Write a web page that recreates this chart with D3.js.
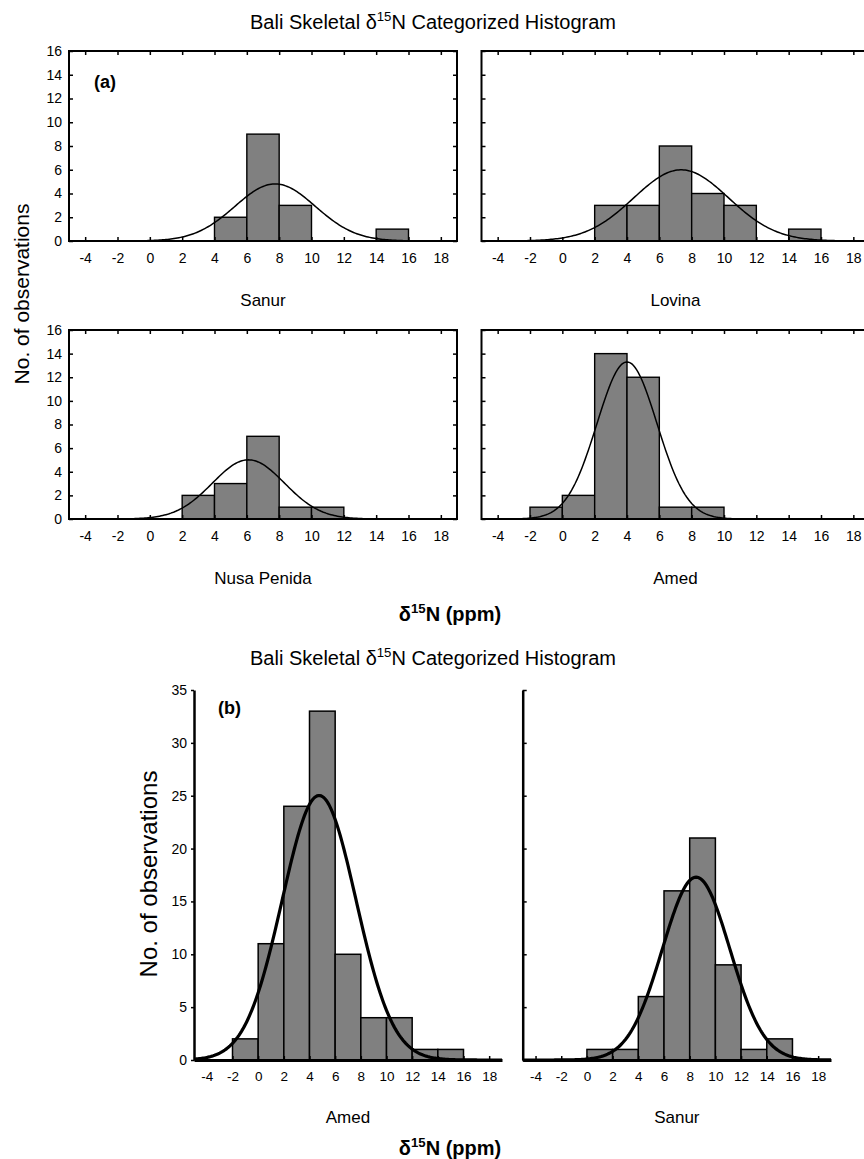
<!DOCTYPE html>
<html><head><meta charset="utf-8">
<script src="https://cdn.jsdelivr.net/npm/d3@7"></script>
<style>
body{margin:0;background:#fff}
text{font-family:"Liberation Sans",Arial,sans-serif;fill:#000}
</style>
</head><body>
<svg id="c" width="864" height="1159"></svg>
<script>
// ---------- data ----------
const binStarts = [-4,-2,0,2,4,6,8,10,12,14,16];
const binWidth = 2;
const xTicks = [-4,-2,0,2,4,6,8,10,12,14,16,18];
const yTicksA = [0,2,4,6,8,10,12,14,16];
const yTicksB = [0,5,10,15,20,25,30,35];

const namesA = ["Sanur","Lovina","Nusa Penida","Amed"];
const sanurA  = [0,0,0,0,2,9,3,0,0,1,0];
const lovinaA = [0,0,0,3,3,8,4,3,0,1,0];
const nusaA   = [0,0,0,2,3,7,1,1,0,0,0];
const amedA   = [0,1,2,14,12,1,1,0,0,0,0];
const fitMeanA = [7.75,7.35,6.1,4.0];
const fitSdA   = [2.49,2.93,2.23,1.86];

const namesB = ["Amed","Sanur"];
const amedB  = [0,2,11,24,33,10,4,4,1,1,0];
const sanurB = [0,0,1,1,6,16,21,9,1,2,0];
const fitMeanB = [4.75,8.5];
const fitSdB   = [2.87,2.63];

const titleText = ["Bali Skeletal ","δ","15","N Categorized Histogram"];
const xTitle = ["δ","15","N (ppm)"];
const yTitle = "No. of observations";

// ---------- drawing ----------
const svg = d3.select("#c");
const countsA = [sanurA,lovinaA,nusaA,amedA];
const countsB = [amedB,sanurB];
const fmt = d => String(d);   // plain hyphen-minus like the original

function normalCurve(counts, m, s){
  const n = d3.sum(counts);
  const k = n*binWidth/(s*Math.sqrt(2*Math.PI));
  return d3.range(-5, 19.001, 0.1).map(x => [x, k*Math.exp(-((x-m)**2)/(2*s*s))]);
}

function supText(g, parts, x, y, size, bold){
  const t = g.append("text").attr("x",x).attr("y",y).attr("text-anchor","middle")
    .style("font-size",size+"px").style("font-weight",bold?"bold":"normal");
  parts.forEach((p,i)=>{
    const ts = t.append("tspan").text(p);
    if (p === "15"){ ts.style("font-size",(size*0.66)+"px").attr("dy",-size*0.4); }
    else if (i>0 && parts[i-1]==="15"){ ts.attr("dy",size*0.4); }
  });
  return t;
}

// ===== Part (a) =====
supText(svg, titleText, 433, 29, 20, false);

const panelsA = [
  {x0:69, x1:457, y0:51, y1:241, left:true},
  {x0:481.5, x1:869.5, y0:51, y1:241, left:false},
  {x0:69, x1:457, y0:330, y1:519, left:true},
  {x0:481.5, x1:869.5, y0:330, y1:519, left:false}
];
const labelYA = [306,306,584,584];

panelsA.forEach((p,i)=>{
  const x = d3.scaleLinear().domain([-5,19]).range([p.x0,p.x1]);
  const y = d3.scaleLinear().domain([0,16]).range([p.y1,p.y0]);
  const g = svg.append("g");
  const cid = "clipA"+i;
  svg.append("clipPath").attr("id",cid).append("rect")
    .attr("x",p.x0).attr("y",p.y0).attr("width",p.x1-p.x0).attr("height",p.y1-p.y0);

  g.selectAll("rect.bar").data(binStarts.map((b,j)=>({b, c:countsA[i][j]})).filter(d=>d.c>0))
    .join("rect").attr("class","bar")
    .attr("x",d=>x(d.b)).attr("width",d=>x(d.b+binWidth)-x(d.b))
    .attr("y",d=>y(d.c)).attr("height",d=>y(0)-y(d.c))
    .attr("fill","#808080").attr("stroke","#000").attr("stroke-width",1.4);

  g.append("path").datum(normalCurve(countsA[i], fitMeanA[i], fitSdA[i]))
    .attr("clip-path","url(#"+cid+")")
    .attr("fill","none").attr("stroke","#000").attr("stroke-width",1.5)
    .attr("d", d3.line().x(d=>x(d[0])).y(d=>y(d[1])));

  const ax = g.append("g").attr("transform",`translate(0,${p.y1})`)
    .call(d3.axisBottom(x).tickValues(xTicks).tickSizeInner(-4).tickSizeOuter(0).tickPadding(12).tickFormat(fmt));
  ax.select(".domain").remove();
  ax.selectAll("text").style("font-size","14px").attr("fill","#000").style("font-family",null);
  ax.selectAll("line").attr("stroke","#000").attr("stroke-width",1.5);

  const axT = g.append("g").attr("transform",`translate(0,${p.y0})`)
    .call(d3.axisTop(x).tickValues(xTicks).tickSizeInner(-4).tickSizeOuter(0).tickFormat(""));
  axT.select(".domain").remove();
  axT.selectAll("line").attr("stroke","#000").attr("stroke-width",1.5);

  const ayL = g.append("g").attr("transform",`translate(${p.x0},0)`)
    .call(d3.axisLeft(y).tickValues(yTicksA).tickSizeInner(-4).tickSizeOuter(0).tickPadding(7)
      .tickFormat(p.left ? fmt : ""));
  ayL.select(".domain").remove();
  ayL.selectAll("text").style("font-size","14px").attr("fill","#000").style("font-family",null);
  ayL.selectAll("line").attr("stroke","#000").attr("stroke-width",1.5);

  const ayR = g.append("g").attr("transform",`translate(${p.x1},0)`)
    .call(d3.axisRight(y).tickValues(yTicksA).tickSizeInner(-4).tickSizeOuter(0).tickFormat(""));
  ayR.select(".domain").remove();
  ayR.selectAll("line").attr("stroke","#000").attr("stroke-width",1.5);

  g.append("rect").attr("x",p.x0).attr("y",p.y0).attr("width",p.x1-p.x0).attr("height",p.y1-p.y0)
    .attr("fill","none").attr("stroke","#000").attr("stroke-width",2);

  svg.append("text").attr("x",(p.x0+p.x1)/2).attr("y",labelYA[i]).attr("text-anchor","middle")
    .style("font-size","17px").text(namesA[i]);
});

svg.append("text").attr("x",94).attr("y",88).style("font-size","18px").style("font-weight","bold").text("(a)");
svg.append("text").attr("transform","translate(29,294) rotate(-90)").attr("text-anchor","middle")
  .style("font-size","21px").text(yTitle);
supText(svg, xTitle, 450, 621, 20, true);

// ===== Part (b) =====
supText(svg, titleText, 433, 665, 20, false);

const panelsB = [
  {x0:194, x1:502, y0:690, y1:1060, left:true},
  {x0:522.7, x1:831, y0:690, y1:1060, left:false}
];
panelsB.forEach((p,i)=>{
  const x = d3.scaleLinear().domain([-5,19]).range([p.x0,p.x1]);
  const y = d3.scaleLinear().domain([0,35]).range([p.y1,p.y0]);
  const g = svg.append("g");

  g.selectAll("rect.bar").data(binStarts.map((b,j)=>({b, c:countsB[i][j]})).filter(d=>d.c>0))
    .join("rect").attr("class","bar")
    .attr("x",d=>x(d.b)).attr("width",d=>x(d.b+binWidth)-x(d.b))
    .attr("y",d=>y(d.c)).attr("height",d=>y(0)-y(d.c))
    .attr("fill","#808080").attr("stroke","#000").attr("stroke-width",1.5);

  g.append("path").datum(normalCurve(countsB[i], fitMeanB[i], fitSdB[i]))
    .attr("fill","none").attr("stroke","#000").attr("stroke-width",3.2)
    .attr("d", d3.line().x(d=>x(d[0])).y(d=>y(d[1])));

  const ax = g.append("g").attr("transform",`translate(0,${p.y1})`)
    .call(d3.axisBottom(x).tickValues(xTicks).tickSizeInner(-4).tickSizeOuter(0).tickPadding(11).tickFormat(fmt));
  ax.select(".domain").attr("stroke","#000").attr("stroke-width",3);
  ax.selectAll("text").style("font-size","13.5px").attr("fill","#000").style("font-family",null);
  ax.selectAll("line").attr("stroke","#000").attr("stroke-width",1.5);

  const ay = g.append("g").attr("transform",`translate(${p.x0},0)`)
    .call(d3.axisLeft(y).tickValues(yTicksB).tickSizeInner(p.left?3:-4).tickSizeOuter(0).tickPadding(4)
      .tickFormat(p.left ? fmt : ""));
  ay.select(".domain").attr("stroke","#000").attr("stroke-width",2.5);
  ay.selectAll("text").style("font-size","14px").attr("fill","#000").style("font-family",null);
  ay.selectAll("line").attr("stroke","#000").attr("stroke-width",1.5);

  svg.append("text").attr("x",(p.x0+p.x1)/2).attr("y",1123).attr("text-anchor","middle")
    .style("font-size","17px").text(namesB[i]);
});
svg.append("text").attr("x",218).attr("y",714).style("font-size","18px").style("font-weight","bold").text("(b)");
svg.append("text").attr("transform","translate(157,874) rotate(-90)").attr("text-anchor","middle")
  .style("font-size","24px").text(yTitle);
supText(svg, xTitle, 450, 1155, 20, true);
</script>
</body></html>
